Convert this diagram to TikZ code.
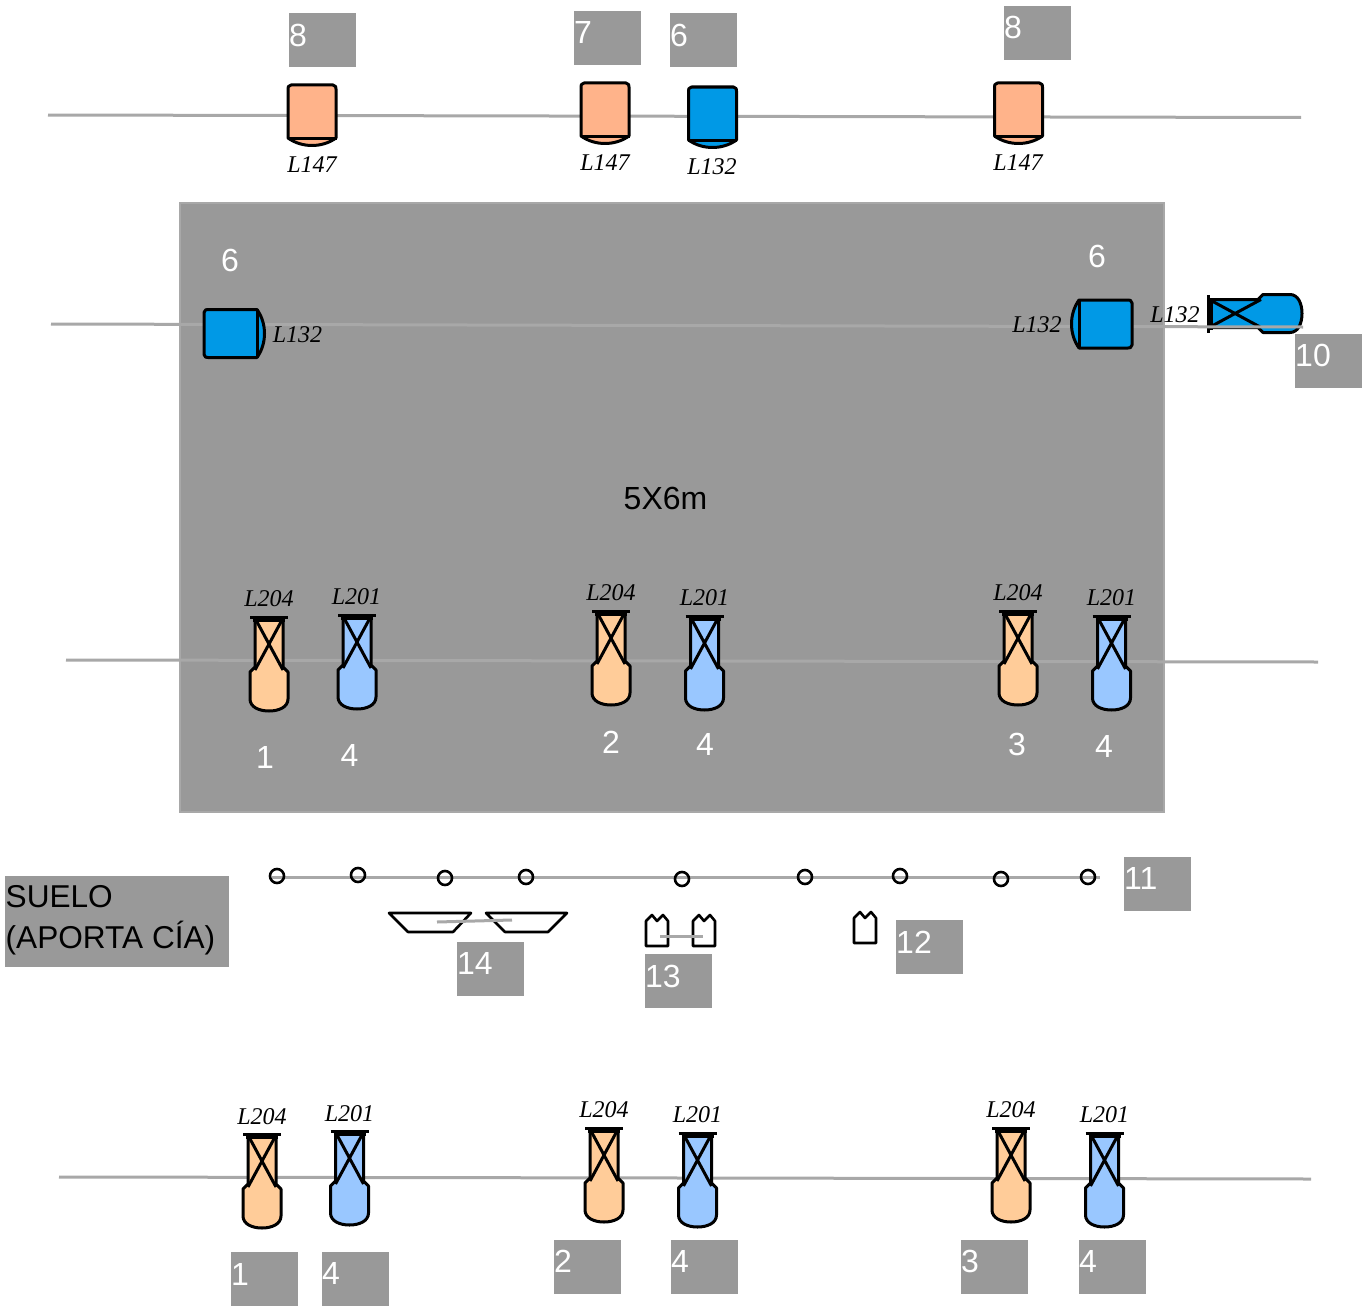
\documentclass[tikz,border=0pt]{standalone}
\usepackage{fontspec}
\setmainfont{Liberation Sans}
\newfontfamily\lampfont{Liberation Serif}
\definecolor{boxgray}{HTML}{999999}
\definecolor{pipegray}{HTML}{A8A8A8}
\definecolor{salmon}{HTML}{FFB38A}
\definecolor{deepblue}{HTML}{0099E6}
\definecolor{peach}{HTML}{FFCC99}
\definecolor{skyblue}{HTML}{99C7FF}
\tikzset{
  ink/.style={draw=black,line width=3pt,line join=round},
  pipe/.style={draw=pipegray,line width=3pt},
  tag/.style={fill=boxgray,minimum width=66.5pt,minimum height=54pt,inner sep=0pt,anchor=north west},
  tagtext/.style={text=white,font=\fontsize{32}{36}\selectfont,inner sep=0pt,anchor=west},
  whitenum/.style={text=white,font=\fontsize{32}{36}\selectfont,inner sep=0pt},
  lamplabel/.style={text=black,font=\lampfont\itshape\fontsize{24}{28}\selectfont,inner sep=0pt},
  pics/parlamp/.style={code={
    \path[ink,fill=#1] (-24,53)--(-24,4) .. controls (-24,1.5) .. (-21,0)--(21,0) .. controls (24,1.5) .. (24,4)--(24,53)
      .. controls (10,63) and (-10,63) .. (-24,53)--cycle;
    \draw[ink] (-24.5,53)--(24.5,53);
  }},
  pics/proflamp/.style={code={
    \path[ink,fill=#1] (-14,3)--(-14,50)--(-19,55)--(-19,82)
      .. controls (-19,90) and (-10,94) .. (0,94)
      .. controls (10,94) and (19,90) .. (19,82)
      --(19,55)--(14,50)--(14,3)--cycle;
    \draw[ink] (-19,0)--(19,0) (-16,3.5)--(16,3.5);
    \draw[ink] (-13,3)--(14,53) (13,3)--(-14,53);
  }},
  pics/barn/.style={code={
    \draw[ink,line width=2.6pt] (-11,31)--(-11,6)--(-5,0)--(0,6)--(6,0)--(11,6)--(11,31)--cycle;
  }},
  pics/ringclamp/.style={code={
    \draw[ink,line width=2.6pt] (0,0) circle[radius=7];
  }},
}
\begin{document}
\begin{tikzpicture}[x=1pt,y=-1pt]
\useasboundingbox (0,0) rectangle (1371,1306);
% stage
\path[fill=boxgray,draw=pipegray,line width=2.5pt] (180,203) rectangle (1164,812);
% pipe end points
\coordinate (p1a) at (48,115);   \coordinate (p1b) at (1301,117.5);
\coordinate (p2a) at (51,324);   \coordinate (p2b) at (1303,327);
\coordinate (p3a) at (66,660);   \coordinate (p3b) at (1318,662);
\coordinate (p4a) at (59,1177);  \coordinate (p4b) at (1311,1179);
\coordinate (p5a) at (272,877);  \coordinate (p5b) at (1100,877);
\draw[pipe] (p1a)--(p1b);
\draw[pipe] (p3a)--(p3b);
\draw[pipe] (p4a)--(p4b);
\draw[pipe] (p5a)--(p5b);
% top row
\pic at (312,85) {parlamp=salmon};
\pic at (605,83) {parlamp=salmon};
\pic at (712.5,87) {parlamp=deepblue};
\pic at (1018.5,83) {parlamp=salmon};
% side wash lamps
\pic[rotate=90] at (1208,313.5) {proflamp=deepblue};
\draw[pipe] (p2a)--(p2b);
\pic[rotate=90] at (204,333.5) {parlamp=deepblue};
\pic[rotate=-90] at (1132,324) {parlamp=deepblue};
% stage row
\pic at (269,617) {proflamp=peach};
\pic at (357,615) {proflamp=skyblue};
\pic at (611,611) {proflamp=peach};
\pic at (704.5,616) {proflamp=skyblue};
\pic at (1018,611) {proflamp=peach};
\pic at (1111.5,616) {proflamp=skyblue};
% bottom row
\pic at (262,1134) {proflamp=peach};
\pic at (349.5,1131) {proflamp=skyblue};
\pic at (604,1128) {proflamp=peach};
\pic at (697.5,1133) {proflamp=skyblue};
\pic at (1011,1128) {proflamp=peach};
\pic at (1104.5,1133) {proflamp=skyblue};
% truss clamps
\foreach \cx/\cy in {277/876,358/875,445/878,526/877,682/879,805/877,900/876,1001/879,1088/877}
  \pic at (\cx,\cy) {ringclamp};
% floor units
\draw[ink,line width=2.6pt] (389,913)--(471,913)--(453,932)--(408,932)--cycle;
\draw[ink,line width=2.6pt] (486,913)--(567,913)--(548,932)--(505,932)--cycle;
\coordinate (f1a) at (437,922); \coordinate (f1b) at (512,920);
\draw[pipe] (f1a)--(f1b);
\pic at (657,915) {barn};
\pic at (704,915) {barn};
\coordinate (f2a) at (660,936.5); \coordinate (f2b) at (703,936.5);
\draw[pipe] (f2a)--(f2b);
\pic at (865,912) {barn};
% gray tags
\foreach \nm/\bx/\by/\ty/\txt in {a/289/13/35/8,b/574/11/32/7,c/670/13/35/6,d/1004/6/27.5/8,e/1295/334/355/10,f/1124/857/878.5/11,g/896/920/942/12,h/645/954/976/13,i/457/942/963/14,j/231/1252/1274/1,k/322/1252/1273/4,l/554/1240/1261/2,m/671/1240/1261/4,n/961/1240/1261/3,o/1079/1240/1261/4}{
  \node[tag] (tag\nm) at (\bx,\by) {};
  \node[tagtext] (tagt\nm) at (\bx,\ty) {\txt};
}
\node[fill=boxgray,inner sep=0pt,minimum width=224pt,minimum height=91pt,anchor=north west] (suelobox) at (5,876) {};
\node[inner sep=0pt,anchor=west,align=left,text=black,font=\fontsize{31.6}{40.5}\selectfont] (suelo) at (5.5,920) {SUELO\\(APORTA CÍA)};
% white numbers
\node[whitenum] (n1) at (230,260) {6};
\node[whitenum] (n2) at (1097,256) {6};
\node[whitenum] (n3) at (265,757.5) {1};
\node[whitenum] (n4) at (349.5,755) {4};
\node[whitenum] (n5) at (611,742) {2};
\node[whitenum] (n6) at (705,744) {4};
\node[whitenum] (n7) at (1017,744) {3};
\node[whitenum] (n8) at (1104,746) {4};
\node[text=black,inner sep=0pt,font=\fontsize{32}{36}\selectfont] (size) at (665.5,498) {5X6m};
% lamp labels
\foreach \nm/\lx/\ly/\txt in {a/312/165/L147,b/605/163/L147,c/712/167/L132,d/1018/163/L147,e/297.5/334.5/L132,f/1037/324.5/L132,g/1175/314.5/L132,h/269/598.5/L204,i/356.5/596.5/L201,j/611/592.5/L204,k/704.5/597.5/L201,l/1018/592.5/L204,m/1111.5/597.5/L201,n/262/1116.5/L204,o/349.5/1113.5/L201,p/604/1109.5/L204,q/697.5/1114.5/L201,r/1011/1109.5/L204,s/1104.5/1114.5/L201}
  \node[lamplabel] (lab\nm) at (\lx,\ly) {\txt};
\end{tikzpicture}
\end{document}
